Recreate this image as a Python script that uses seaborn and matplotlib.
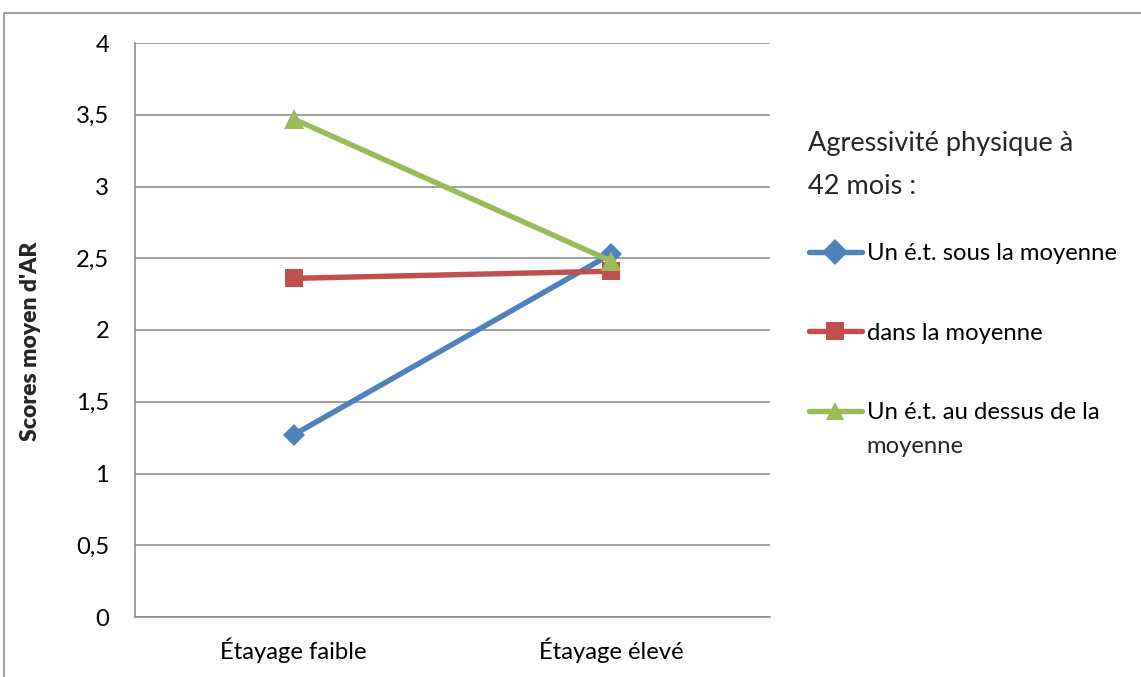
import matplotlib
matplotlib.use("Agg")
import matplotlib.pyplot as plt
from matplotlib.patches import Rectangle
from matplotlib.ticker import FuncFormatter, MultipleLocator
import seaborn as sns
import pandas as pd

# Data
conditions = ["Étayage faible", "Étayage élevé"]
groups = ["Un é.t. sous la moyenne", "dans la moyenne", "Un é.t. au dessus de la moyenne"]
scores_sous = [1.27, 2.53]
scores_dans = [2.36, 2.41]
scores_dessus = [3.47, 2.48]

y_label = "Scores moyen d'AR"
legend_title = ["Agressivité physique à", "42 mois :"]

colors = ["#4F81BD", "#C0504D", "#9BBB59"]
markers = ["D", "s", "^"]

rows = []
for g, vals in zip(groups, [scores_sous, scores_dans, scores_dessus]):
    for c, v in zip(conditions, vals):
        rows.append({"condition": c, "score": v, "groupe": g})
df = pd.DataFrame(rows)

sns.set_theme(style="white")
plt.rcParams["font.family"] = ["Lato", "DejaVu Sans"]
FS = 17.2

W, H = 1141, 677
fig = plt.figure(figsize=(W / 100, H / 100), dpi=100)
ax = fig.add_axes([135 / W, 1 - 617 / H, (770 - 135) / W, (617 - 43) / H])

sns.lineplot(
    data=df, x="condition", y="score", hue="groupe", style="groupe",
    hue_order=groups, style_order=groups, palette=colors,
    markers=dict(zip(groups, markers)), dashes=False, sort=False,
    linewidth=3.9, markersize=13, markeredgewidth=0, ax=ax, legend=True,
)
for line, m in zip(ax.lines, markers):
    if m == "D":
        line.set_markersize(11)
    elif m == "^":
        line.set_markersize(14)

handles, labels = ax.get_legend_handles_labels()
ax.get_legend().remove()

ax.set_xlim(-0.5, 1.5)
ax.set_ylim(0, 4)
ax.yaxis.set_major_locator(MultipleLocator(0.5))
ax.yaxis.set_major_formatter(FuncFormatter(lambda v, p: f"{v:g}".replace(".", ",")))
ax.grid(axis="y", color="#868686", linewidth=1.1)
ax.set_axisbelow(True)
for side in ["top", "right"]:
    ax.spines[side].set_visible(False)
for side in ["left", "bottom"]:
    ax.spines[side].set_color("#868686")
    ax.spines[side].set_linewidth(1.1)
ax.tick_params(axis="both", length=0, labelsize=FS, colors="black")
ax.tick_params(axis="y", pad=18.5)
ax.tick_params(axis="x", pad=15)
ax.set_xlabel("")
ax.set_ylabel(y_label, fontsize=16.5, fontweight="heavy")
ax.yaxis.set_label_coords(-0.148, 0.48)

# Legend entries (the last label wraps onto a second line)
short_labels = [groups[0], groups[1], "Un é.t. au dessus de la"]
leg = fig.legend(
    handles, short_labels, loc="center left",
    bbox_to_anchor=(809 / W, 1 - 333 / H), bbox_transform=fig.transFigure,
    frameon=False, fontsize=FS, handlelength=2.2, handletextpad=0.22,
    labelspacing=2.45, borderaxespad=0, borderpad=0,
)
for t in leg.get_texts():
    t.set_color("black")

TFS = 19.5
fig.text(808 / W, 1 - 143 / H, legend_title[0], fontsize=TFS, va="center", ha="left")
fig.text(808 / W, 1 - 187 / H, legend_title[1], fontsize=TFS, va="center", ha="left")

fig.canvas.draw()
bb = leg.get_texts()[2].get_window_extent()
fig.text(bb.x0 / W, (bb.y0 + bb.y1) / 2 / H - 34 / H, "moyenne",
         fontsize=FS, va="center", ha="left")

# Outer chart frame
fig.patches.append(Rectangle((4 / W, -0.05), 1.2, 1 - 13 / H + 0.05,
                             transform=fig.transFigure, fill=False,
                             edgecolor="#868686", linewidth=1.1))

fig.savefig("out.png", dpi=100)
